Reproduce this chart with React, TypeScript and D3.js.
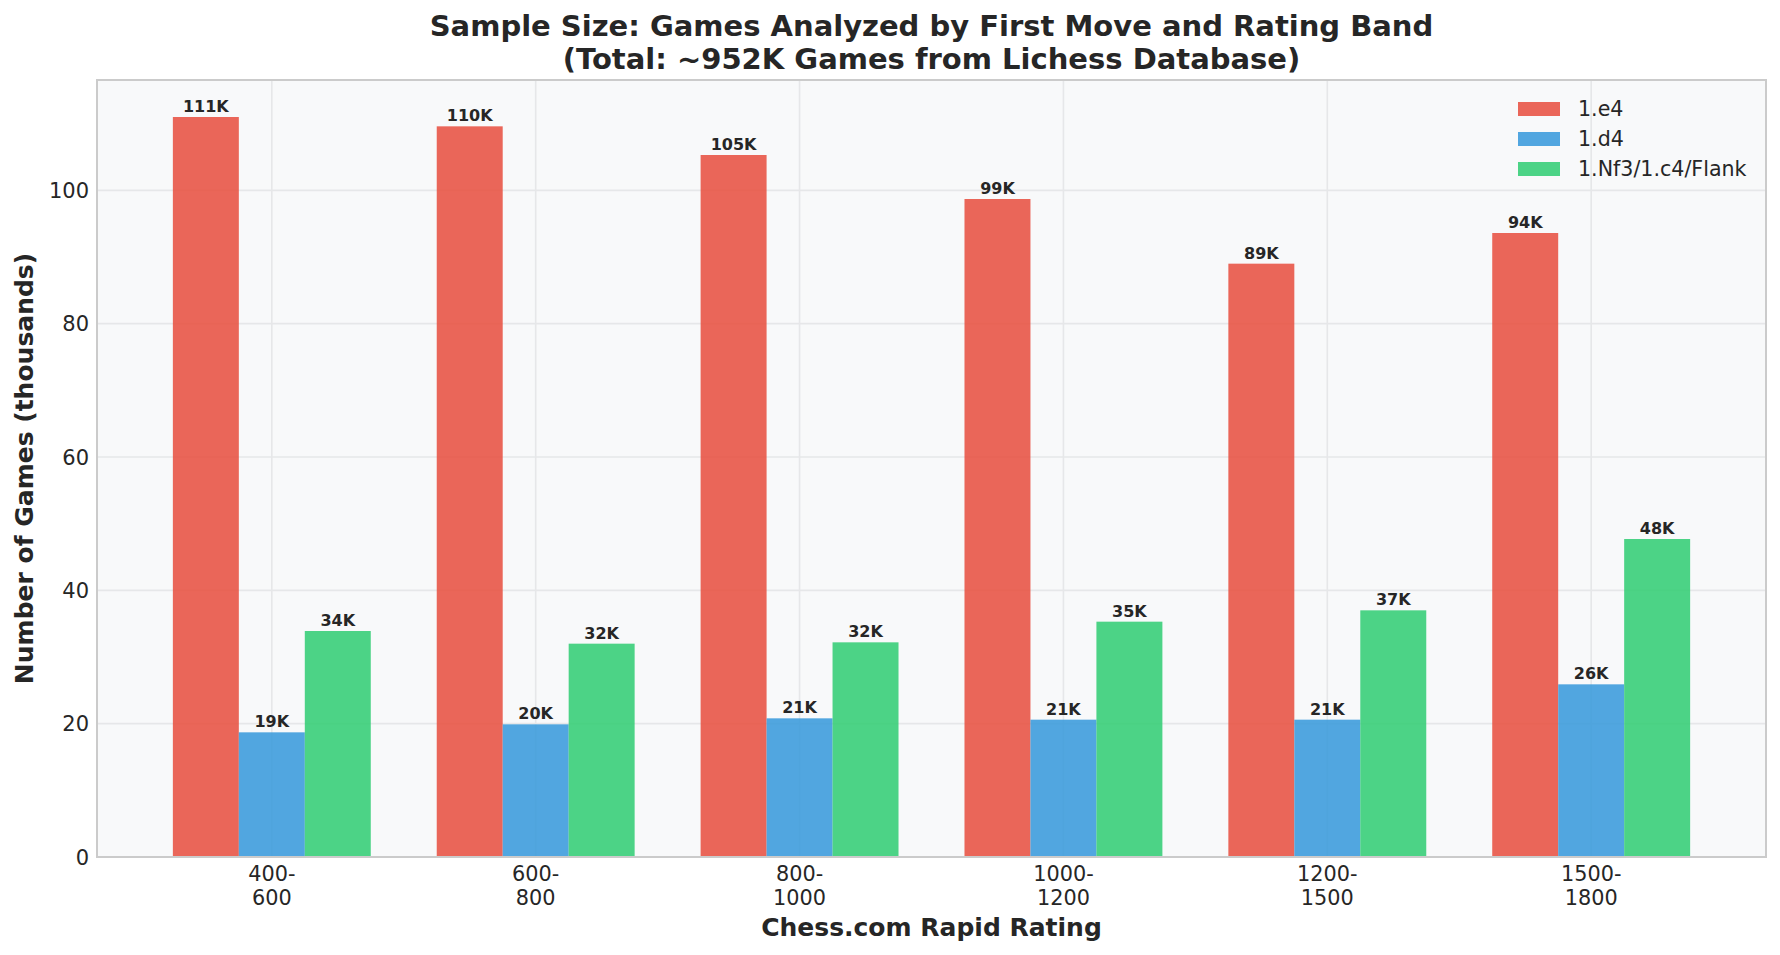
import React, { useMemo } from 'react';
import * as d3 from 'd3';

// rating bands (two-line tick labels)
const bands = ['400-\n600', '600-\n800', '800-\n1000', '1000-\n1200', '1200-\n1500', '1500-\n1800'];

// games per band, thousands
const e4Games = [111.0, 109.6, 105.3, 98.7, 89.0, 93.6];
const d4Games = [18.7, 19.9, 20.8, 20.6, 20.6, 25.9];
const flankGames = [33.9, 32.0, 32.2, 35.3, 37.0, 47.7];

const seriesNames = ['1.e4', '1.d4', '1.Nf3/1.c4/Flank'];
const seriesColors = ['#e74c3c', '#3498db', '#2ecc71'];
const yTicks = [0, 20, 40, 60, 80, 100];

const W = 1780;
const H = 955;
const font = '"DejaVu Sans", sans-serif';
const ink = '#262626';

const App: React.FC = () => {
  const m = { left: 97, right: 1766, top: 80, bottom: 857 };
  const barW = 0.25;

  const chart = useMemo(() => {
    const series = [e4Games, d4Games, flankGames];
    const maxV = d3.max(series.flat()) as number;

    // matplotlib-like margins: 5% on x data extent, 5% above tallest bar
    const lo = -1.5 * barW;
    const hi = bands.length - 1 + 1.5 * barW;
    const pad = (hi - lo) * 0.05;
    const x = d3.scaleLinear().domain([lo - pad, hi + pad]).range([m.left, m.right]);
    const y = d3.scaleLinear().domain([0, maxV * 1.05]).range([m.bottom, m.top]);

    const bars = series.flatMap((vals, si) =>
      vals.map((v, i) => ({
        key: `${si}-${i}`,
        x0: x(i + (si - 1) * barW - barW / 2),
        x1: x(i + (si - 1) * barW + barW / 2),
        yTop: y(v),
        v,
        color: seriesColors[si],
      }))
    );
    return { x, y, bars };
  }, []);

  const { x, y, bars } = chart;
  const cx = (m.left + m.right) / 2;
  const cy = (m.top + m.bottom) / 2;

  return (
    <div style={{ position: 'fixed', left: 0, top: 0 }}>
      <svg width={W} height={H} style={{ display: 'block', background: '#fff' }} fontFamily={font}>
        {/* plot area */}
        <rect x={m.left} y={m.top} width={m.right - m.left} height={m.bottom - m.top} fill="#f8f9fa" />

        {/* grid */}
        {yTicks.map((t) => (
          <line key={`gy${t}`} x1={m.left} x2={m.right} y1={y(t)} y2={y(t)} stroke="#e6e7e9" strokeWidth={1.6} />
        ))}
        {bands.map((_, i) => (
          <line key={`gx${i}`} x1={x(i)} x2={x(i)} y1={m.top} y2={m.bottom} stroke="#e6e7e9" strokeWidth={1.6} />
        ))}

        {/* bars */}
        {bars.map((b) => (
          <rect
            key={b.key}
            x={b.x0}
            y={b.yTop}
            width={b.x1 - b.x0}
            height={m.bottom - b.yTop}
            fill={b.color}
            fillOpacity={0.85}
          />
        ))}

        {/* value labels */}
        {bars.map((b) => (
          <text
            key={`l${b.key}`}
            x={(b.x0 + b.x1) / 2}
            y={b.yTop - 5}
            textAnchor="middle"
            fontSize={16}
            fontWeight="bold"
            fill={ink}
          >
            {`${Math.round(b.v)}K`}
          </text>
        ))}

        {/* frame */}
        <rect
          x={m.left}
          y={m.top}
          width={m.right - m.left}
          height={m.bottom - m.top}
          fill="none"
          stroke="#cbcbcb"
          strokeWidth={2}
        />

        {/* y ticks */}
        {yTicks.map((t) => (
          <text key={`yt${t}`} x={89} y={y(t)} dy="0.36em" textAnchor="end" fontSize={21} fill={ink}>
            {t}
          </text>
        ))}

        {/* x ticks */}
        {bands.map((b, i) => (
          <text key={`xt${i}`} x={x(i)} y={881} textAnchor="middle" fontSize={20.8} fill={ink}>
            {b.split('\n').map((ln, k) => (
              <tspan key={k} x={x(i)} dy={k === 0 ? 0 : 23.5}>
                {ln}
              </tspan>
            ))}
          </text>
        ))}

        {/* axis labels */}
        <text x={cx} y={936} textAnchor="middle" fontSize={25} fontWeight="bold" fill={ink}>
          Chess.com Rapid Rating
        </text>
        <text
          transform={`translate(33, ${cy}) rotate(-90)`}
          textAnchor="middle"
          fontSize={25}
          fontWeight="bold"
          fill={ink}
        >
          Number of Games (thousands)
        </text>

        {/* title */}
        <text x={cx} y={36} textAnchor="middle" fontSize={29} fontWeight="bold" fill={ink}>
          Sample Size: Games Analyzed by First Move and Rating Band
        </text>
        <text x={cx} y={69} textAnchor="middle" fontSize={29} fontWeight="bold" fill={ink}>
          (Total: ~952K Games from Lichess Database)
        </text>

        {/* legend */}
        {seriesNames.map((name, i) => (
          <g key={name} transform={`translate(1518, ${109 + i * 30})`}>
            <rect x={0} y={-7} width={42} height={14} fill={seriesColors[i]} fillOpacity={0.85} />
            <text x={60} y={0} dy="0.36em" fontSize={20.6} fill={ink}>
              {name}
            </text>
          </g>
        ))}
      </svg>
    </div>
  );
};

export default App;
